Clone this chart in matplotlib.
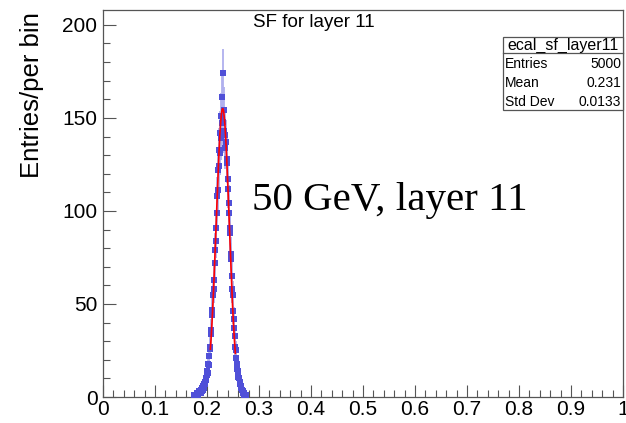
import numpy as np
import matplotlib
matplotlib.use("Agg")
import matplotlib.pyplot as plt
from matplotlib.patches import Rectangle
from matplotlib.ticker import MultipleLocator

# histogram: 1000 bins on [0, 1], only the filled region listed
n_bins = 1000
x_min, x_max = 0.0, 1.0
first_bin = 175  # index of first listed bin (0.175 - 0.176)
counts = [1, 0, 1, 0, 1, 2, 1, 2, 1, 3,
          2, 3, 2, 4, 3, 5, 4, 6, 5, 7,
          8, 7, 10, 9, 12, 14, 13, 18, 17, 22,
          27, 26, 34, 36, 44, 47, 55, 58, 63, 72,
          79, 84, 91, 99, 108, 111, 122, 124, 133, 131,
          142, 139, 151, 147, 161, 174, 148, 154, 143, 141,
          134, 137, 126, 128, 117, 112, 104, 99, 91, 88,
          77, 74, 65, 58, 55, 46, 42, 37, 33, 27,
          25, 21, 18, 15, 14, 11, 10, 8, 7, 6,
          5, 4, 4, 3, 2, 2, 1, 1, 1, 0, 1]

# gaussian fit result
fit_amp = 155.0
fit_mean = 0.2302
fit_sigma = 0.0125
fit_range = (0.2065, 0.2545)

hist_name = "ecal_sf_layer11"
stats = [("Entries", "5000"), ("Mean", "0.231"), ("Std Dev", "0.0133")]

blue = "#5050d8"
sans = "Liberation Sans"

fig = plt.figure(figsize=(6.26, 4.23), dpi=100)
ax = fig.add_axes([103 / 626, 26 / 423, 520 / 626, 387 / 423])

width = (x_max - x_min) / n_bins
counts = np.array(counts, dtype=float)
centers = x_min + (first_bin + np.arange(len(counts)) + 0.5) * width
keep = counts > 0
ax.errorbar(centers[keep], counts[keep], yerr=np.sqrt(counts[keep]),
            fmt="none", ecolor="#b0b0ee", elinewidth=1.3, zorder=2)
ax.plot(centers[keep], counts[keep], "s", color=blue, markersize=5,
        markeredgewidth=0, zorder=3)

xf = np.linspace(fit_range[0], fit_range[1], 200)
ax.plot(xf, fit_amp * np.exp(-0.5 * ((xf - fit_mean) / fit_sigma) ** 2),
        color="red", lw=1.2, zorder=4)

ax.set_xlim(x_min, x_max)
ax.set_ylim(0, 208)
ax.xaxis.set_major_locator(MultipleLocator(0.1))
ax.xaxis.set_minor_locator(MultipleLocator(0.02))
ax.yaxis.set_major_locator(MultipleLocator(50))
ax.yaxis.set_minor_locator(MultipleLocator(10))
ax.xaxis.set_major_formatter(plt.FuncFormatter(lambda v, p: "%g" % round(v, 2)))
ax.tick_params(which="both", direction="in", top=False, right=False,
               color="#555555", width=0.8, labelsize=15)
ax.tick_params(which="major", length=9)
ax.tick_params(which="minor", length=5)
ax.tick_params(axis="y", pad=4)
ax.tick_params(axis="x", pad=2)
for lab in ax.get_xticklabels() + ax.get_yticklabels():
    lab.set_fontfamily(sans)
for s in ax.spines.values():
    s.set_color("#555555")
    s.set_linewidth(0.9)

fig.text(32 / 626, 1 - 95 / 423, "Entries/per bin", rotation=90,
         ha="center", va="center", fontsize=18.5, family=sans)
fig.text(253 / 626, 1 - 27 / 423, "SF for layer 11", ha="left",
         va="baseline", fontsize=13.5, family=sans)
fig.text(252 / 626, 1 - 210 / 423, "50 GeV, layer 11", ha="left",
         va="baseline", fontsize=29.5, family="Liberation Serif")

# stats box
bx0, bx1 = 503 / 626, 623 / 626
by_top, by_sep, by_bot = 1 - 37.5 / 423, 1 - 53 / 423, 1 - 110.5 / 423
fig.patches.append(Rectangle((bx0, by_bot), bx1 - bx0, by_top - by_bot,
                             transform=fig.transFigure, fill=True,
                             facecolor="white", edgecolor="#555555", lw=0.9))
fig.lines.append(plt.Line2D([bx0, bx1], [by_sep, by_sep],
                            transform=fig.transFigure, color="#555555", lw=0.9))
fig.text((bx0 + bx1) / 2, 1 - 45.5 / 423, hist_name, ha="center",
         va="center", fontsize=11.5, family=sans)
row_y = [64, 83, 102]
for (k, v), yy in zip(stats, row_y):
    fig.text(505 / 626, 1 - yy / 423, k, ha="left", va="center",
             fontsize=10, family=sans)
    fig.text(621 / 626, 1 - yy / 423, v, ha="right", va="center",
             fontsize=10, family=sans)

fig.savefig("out.png", dpi=100)
